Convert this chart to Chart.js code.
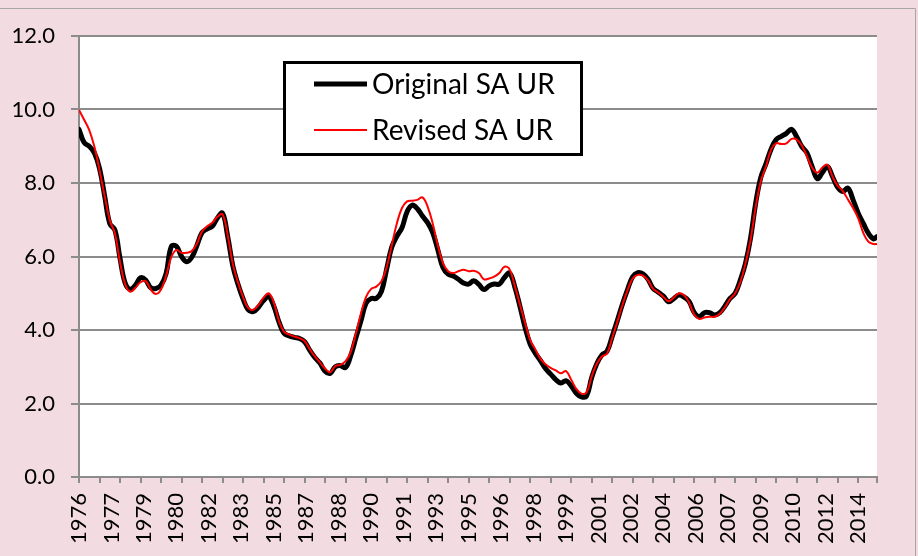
<!DOCTYPE html>
<html>
<head>
<meta charset="utf-8">
<script src="https://cdn.jsdelivr.net/npm/chart.js@4"></script>
<style>
  html, body { margin: 0; padding: 0; background: #f2dce1; }
  canvas { display: block; }
</style>
</head>
<body>
<canvas id="c" width="918" height="556"></canvas>
<script>
// ---- Data (quarterly readings from Jan 1976, last point Dec 2014) ----
const seriesNames = ['Original SA UR', 'Revised SA UR'];
const startYear = 1976;
const monthStep = 3;          // months between readings
const lastMonth = 467;        // Dec 2014, months after Jan 1976
const labelStepMonths = 19;   // category label interval (months)
const tickStepMonths = 12;    // tick mark interval (months)
const tickYears = ['1976','1977','1979','1980','1982','1983','1985','1987','1988','1990','1991','1993','1995',
                   '1996','1998','1999','2001','2002','2004','2006','2007','2009','2010','2012','2014'];

const originalSA = [
  9.46, 9.10, 9.00, 8.82, 8.40, 7.65, 6.90, 6.72, 5.95, 5.28, 5.11, 5.22, 5.42, 5.36, 5.15, 5.13,
  5.22, 5.54, 6.27, 6.28, 6.00, 5.86, 5.98, 6.30, 6.65, 6.75, 6.82, 7.05, 7.18, 6.55, 5.75, 5.25,
  4.85, 4.55, 4.50, 4.62, 4.80, 4.91, 4.65, 4.22, 3.91, 3.84, 3.80, 3.77, 3.68, 3.45, 3.25, 3.10,
  2.88, 2.82, 3.00, 3.03, 2.98, 3.30, 3.78, 4.25, 4.73, 4.86, 4.86, 5.05, 5.65, 6.25, 6.55, 6.78,
  7.22, 7.40, 7.30, 7.10, 6.92, 6.65, 6.18, 5.70, 5.52, 5.47, 5.38, 5.28, 5.25, 5.34, 5.24, 5.10,
  5.20, 5.25, 5.25, 5.43, 5.55, 5.18, 4.65, 4.08, 3.62, 3.37, 3.17, 2.95, 2.80, 2.65, 2.56, 2.62,
  2.48, 2.28, 2.18, 2.20, 2.70, 3.08, 3.32, 3.42, 3.82, 4.25, 4.70, 5.10, 5.45, 5.56, 5.53, 5.38,
  5.13, 5.03, 4.92, 4.77, 4.85, 4.95, 4.90, 4.78, 4.48, 4.36, 4.47, 4.47, 4.41, 4.47, 4.65, 4.86,
  5.00, 5.36, 5.81, 6.50, 7.45, 8.15, 8.52, 8.92, 9.18, 9.27, 9.35, 9.46, 9.26, 8.99, 8.82, 8.45,
  8.12, 8.28, 8.45, 8.17, 7.88, 7.77, 7.86, 7.54, 7.18, 6.90, 6.63, 6.48,
  6.54
];

const revisedSA = [
  9.99, 9.72, 9.44, 8.99, 8.35, 7.65, 6.99, 6.63, 5.85, 5.25, 5.04, 5.15, 5.30, 5.33, 5.10, 4.98,
  5.10, 5.48, 5.98, 6.18, 6.10, 6.10, 6.15, 6.35, 6.68, 6.82, 6.92, 7.08, 7.15, 6.58, 5.80, 5.30,
  4.90, 4.60, 4.55, 4.68, 4.88, 5.00, 4.75, 4.25, 3.95, 3.88, 3.82, 3.78, 3.70, 3.48, 3.28, 3.12,
  2.95, 2.85, 3.02, 3.05, 3.15, 3.40, 3.90, 4.45, 4.90, 5.12, 5.18, 5.33, 5.70, 6.30, 6.90, 7.32,
  7.50, 7.52, 7.54, 7.61, 7.36, 6.90, 6.30, 5.82, 5.60, 5.55, 5.60, 5.64, 5.60, 5.61, 5.55, 5.38,
  5.40, 5.45, 5.55, 5.72, 5.65, 5.20, 4.70, 4.20, 3.73, 3.48, 3.22, 3.07, 2.97, 2.90, 2.82, 2.88,
  2.65, 2.40, 2.27, 2.30, 2.73, 3.08, 3.28, 3.36, 3.78, 4.22, 4.68, 5.08, 5.40, 5.50, 5.48, 5.35,
  5.12, 5.02, 4.90, 4.78, 4.88, 5.00, 4.95, 4.75, 4.42, 4.30, 4.34, 4.36, 4.36, 4.44, 4.62, 4.84,
  5.00, 5.30, 5.80, 6.45, 7.35, 8.05, 8.45, 8.90, 9.08, 9.06, 9.08, 9.20, 9.18, 9.02, 8.72, 8.42,
  8.28, 8.42, 8.50, 8.17, 7.92, 7.78, 7.55, 7.32, 7.04, 6.64, 6.40, 6.34,
  6.34
];

const yMin = 0, yMax = 12, yStep = 2;

// ---- Build ----
const monthOf = i => Math.min(i * monthStep, lastMonth);
const toPoints = arr => arr.map((v, i) => ({ x: monthOf(i), y: v }));

const labelMonths = tickYears.map((_, k) => k * labelStepMonths);
const tickMonths = [];
for (let m = 0; m <= lastMonth; m += tickStepMonths) tickMonths.push(m);
tickMonths.push(lastMonth);
const allTicks = Array.from(new Set([...tickMonths, ...labelMonths])).sort((a, b) => a - b);

const GRID = '#8c8c8c';
const FONT = 'Lato';

const backgroundPlugin = {
  id: 'bg',
  beforeDraw(chart) {
    const { ctx, chartArea: a } = chart;
    ctx.save();
    ctx.fillStyle = '#f2dce1';
    ctx.fillRect(0, 0, chart.width, chart.height);
    ctx.strokeStyle = '#a6a6a6';
    ctx.lineWidth = 1;
    ctx.beginPath();
    ctx.moveTo(0, 8.5);
    ctx.lineTo(915.5, 8.5);
    ctx.lineTo(915.5, chart.height);
    ctx.stroke();
    ctx.fillStyle = '#ffffff';
    ctx.fillRect(a.left, a.top, a.right - a.left, a.bottom - a.top);
    ctx.restore();
  }
};

const legendPlugin = {
  id: 'customLegend',
  afterDraw(chart) {
    const { ctx } = chart;
    const ds = chart.data.datasets;
    ctx.save();
    ctx.fillStyle = '#ffffff';
    ctx.fillRect(284, 62, 298, 93);
    ctx.strokeStyle = '#000000';
    ctx.lineWidth = 3;
    ctx.strokeRect(284.5, 62.5, 297, 92);
    const rows = [84, 130];
    ds.forEach((d, i) => {
      const y = rows[i];
      ctx.strokeStyle = d.borderColor;
      ctx.lineWidth = d.borderWidth;
      ctx.lineCap = 'butt';
      ctx.beginPath();
      ctx.moveTo(314, y);
      ctx.lineTo(367, y);
      ctx.stroke();
      ctx.fillStyle = '#000000';
      ctx.font = '28px ' + FONT;
      ctx.textAlign = 'left';
      ctx.textBaseline = 'middle';
      ctx.fillText(d.label, 372, y + 1);
    });
    ctx.restore();
  }
};

new Chart(document.getElementById('c'), {
  type: 'line',
  data: {
    datasets: [
      {
        label: seriesNames[0],
        data: toPoints(originalSA),
        borderColor: '#000000',
        borderWidth: 5,
        pointRadius: 0,
        tension: 0.4,
        borderJoinStyle: 'round',
        borderCapStyle: 'round',
        fill: false,
        order: 1
      },
      {
        label: seriesNames[1],
        data: toPoints(revisedSA),
        borderColor: '#ff0000',
        borderWidth: 2,
        pointRadius: 0,
        tension: 0.4,
        borderJoinStyle: 'round',
        fill: false,
        order: 0
      }
    ]
  },
  options: {
    responsive: false,
    animation: false,
    devicePixelRatio: 1,
    layout: { padding: { left: 0, right: 41, top: 36, bottom: 0 } },
    plugins: { legend: { display: false }, tooltip: { enabled: false } },
    scales: {
      x: {
        type: 'linear',
        min: 0,
        max: lastMonth,
        afterFit(scale) { scale.height = 79; },
        afterBuildTicks(scale) { scale.ticks = allTicks.map(v => ({ value: v })); },
        border: { display: true, color: GRID, width: 2 },
        grid: {
          drawOnChartArea: false,
          drawTicks: true,
          tickLength: 6,
          lineWidth: 2,
          color: ctx => (ctx.tick && tickMonths.includes(ctx.tick.value)) ? GRID : 'rgba(0,0,0,0)'
        },
        ticks: {
          autoSkip: false,
          minRotation: 90,
          maxRotation: 90,
          padding: 10,
          color: '#000000',
          font: { family: FONT, size: 22 },
          callback: v => {
            const k = labelMonths.indexOf(v);
            return k >= 0 ? tickYears[k] : '';
          }
        }
      },
      y: {
        min: yMin,
        max: yMax,
        afterFit(scale) { scale.width = 79; },
        border: { display: true, color: GRID, width: 2 },
        grid: { color: GRID, lineWidth: 2, tickLength: 8, drawTicks: true },
        ticks: {
          stepSize: yStep,
          padding: 16,
          color: '#000000',
          font: { family: FONT, size: 22 },
          callback: v => Number(v).toFixed(1)
        }
      }
    }
  },
  plugins: [backgroundPlugin, legendPlugin]
});
</script>
</body>
</html>
